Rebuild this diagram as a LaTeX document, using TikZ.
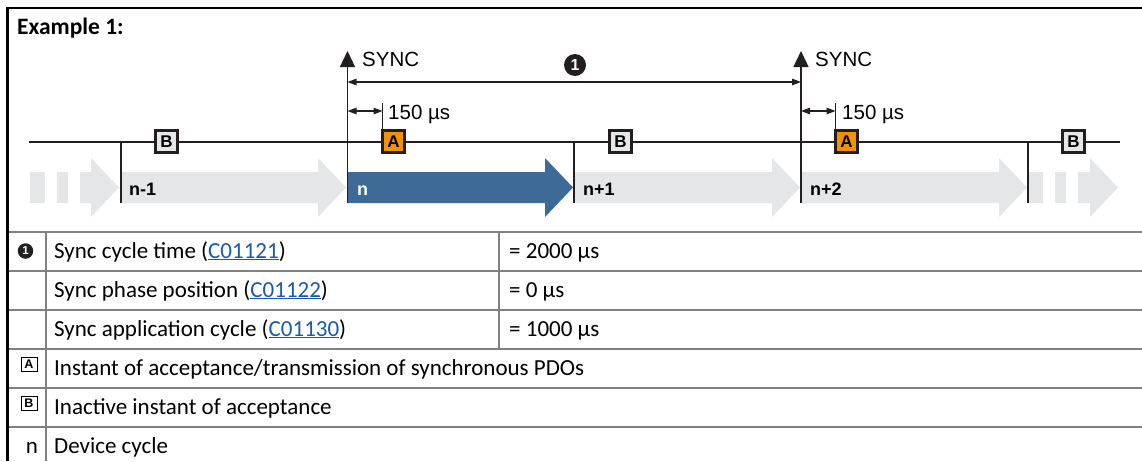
\documentclass[tikz,border=0pt]{standalone}
\usepackage{fontspec}
\setmainfont{Carlito}
\newfontfamily\arial{Liberation Sans}
\usetikzlibrary{arrows.meta}
\definecolor{orangeA}{RGB}{243,146,0}
\definecolor{boxgray}{RGB}{230,231,232}
\definecolor{arrowgray}{RGB}{229,230,231}
\definecolor{cycleblue}{RGB}{61,106,150}
\definecolor{linkblue}{RGB}{25,90,170}
\definecolor{rulegray}{RGB}{128,128,128}
\definecolor{ink}{RGB}{35,31,32}
\newcommand\cycarrow[3]{\fill[#3] (#1,172) -- ({#2-28},172) -- ({#2-28},158) -- (#2,187.5) -- ({#2-28},217) -- ({#2-28},203) -- (#1,203) -- cycle;}
\tikzset{
  timeline/.style={draw=ink, line width=2.6pt},
  tickline/.style={draw=ink, line width=1.3pt},
  boxA/.style={draw=ink, line width=3pt, fill=orangeA, minimum size=22pt, inner sep=0pt, outer sep=0pt, font=\arial\bfseries\fontsize{17}{17}\selectfont},
  boxB/.style={boxA, fill=boxgray},
  cyclabel/.style={anchor=base west, inner sep=0pt, font=\arial\bfseries\fontsize{18}{18}\selectfont},
  arlabel/.style={anchor=base west, inner sep=0pt, font=\arial\fontsize{20.5}{20.5}\selectfont},
  dimline/.style={draw=ink, line width=1.2pt, {Triangle[length=9pt,width=6.5pt]}-{Triangle[length=9pt,width=6.5pt]}},
  syncarrow/.style={draw=ink, line width=1.3pt, -{Triangle[length=16pt,width=15pt]}},
  numcircle/.style={circle, fill=ink, text=white, inner sep=0pt, font=\arial\bfseries},
  rowline/.style={draw=rulegray, line width=2pt},
  frame/.style={draw=black, line width=2.5pt},
  txt/.style={anchor=base west, inner sep=0pt, font=\fontsize{23}{23}\selectfont},
  legbox/.style={draw=black, line width=0.9pt, fill=white, minimum width=16pt, minimum height=14pt, inner sep=0pt, font=\arial\bfseries\fontsize{12.5}{12.5}\selectfont},
}
\begin{document}
\begin{tikzpicture}[x=1pt,y=-1pt]
\useasboundingbox (0,0) rectangle (1142,461);
\fill[white] (0,0) rectangle (1142,461);

% heading
\node[anchor=base west, inner sep=0pt, font=\bfseries\fontsize{23.5}{23.5}\selectfont] (title) at (17,34) {Example 1:};

% cycle arrows
\fill[arrowgray] (30,172) rectangle (45,203);
\fill[arrowgray] (57,172) rectangle (68,203);
\cycarrow{80}{119}{arrowgray}
\cycarrow{121}{346}{arrowgray}
\cycarrow{347.5}{573}{cycleblue}
\cycarrow{574}{800}{arrowgray}
\cycarrow{801}{1027}{arrowgray}
\fill[arrowgray] (1029,172) rectangle (1043,203);
\fill[arrowgray] (1055,172) rectangle (1066,203);
\cycarrow{1078}{1118}{arrowgray}

% cycle labels
\node[cyclabel] (lnm1) at (129,195) {n-1};
\node[cyclabel, text=white] (ln) at (357,195) {n};
\node[cyclabel] (lnp1) at (583,195) {n+1};
\node[cyclabel] (lnp2) at (810,195) {n+2};

% coordinates
\coordinate (tlL) at (29,142);
\coordinate (tlR) at (1120,142);
\coordinate (t0a) at (121,142);   \coordinate (t0b) at (121,203);
\coordinate (t2a) at (574,142);   \coordinate (t2b) at (574,203);
\coordinate (t4a) at (1028,142);  \coordinate (t4b) at (1028,203);
\coordinate (s1b) at (347.5,203); \coordinate (s1t) at (347.5,51);
\coordinate (s2b) at (801,203);   \coordinate (s2t) at (801,51);

% ticks
\draw[tickline] (t0a) -- (t0b);
\draw[tickline] (t2a) -- (t2b);
\draw[tickline] (t4a) -- (t4b);
\draw[syncarrow] (s1b) -- (s1t);
\draw[syncarrow] (s2b) -- (s2t);

% timeline
\draw[timeline] (tlL) -- (tlR);

% boxes
\node[boxB] (B1) at (166.5,141.5) {B};
\node[boxA] (A1) at (393.5,141.5) {A};
\node[boxB] (B2) at (620.5,141.5) {B};
\node[boxA] (A2) at (846.5,141.5) {A};
\node[boxB] (B3) at (1073.5,141.5) {B};

% SYNC labels
\node[arlabel] (sync1) at (362,66) {SYNC};
\node[arlabel] (sync2) at (815,66) {SYNC};

% dimension 1
\coordinate (d1l) at (347.5,82);
\coordinate (d1r) at (801,82);
\draw[dimline] (d1l) -- (d1r);
\node[numcircle, minimum size=22pt, font=\arial\bfseries\fontsize{16}{16}\selectfont] (one) at (575,65) {1};

% 150 us
\coordinate (a1t) at (382.5,103);
\coordinate (a2t) at (835.5,103);
\draw[tickline] (A1.north west) -- (a1t);
\draw[tickline] (A2.north west) -- (a2t);
\coordinate (e1l) at (347.5,111); \coordinate (e1r) at (382.5,111);
\coordinate (e2l) at (801,111);   \coordinate (e2r) at (835.5,111);
\draw[dimline] (e1l) -- (e1r);
\draw[dimline] (e2l) -- (e2r);
\node[arlabel] (us1) at (388,119) {150 µs};
\node[arlabel] (us2) at (842,119) {150 µs};

% table lines
\foreach \yy in {232,271,310,349,388,427} {\draw[rowline] (7,\yy) -- (1142,\yy);}
\draw[rowline] (45.5,232) -- (45.5,461);
\draw[rowline] (499,232) -- (499,349);

% frame
\draw[frame] (7.5,461) -- (7.5,8) -- (1142,8);

% table contents
\node[numcircle, minimum size=15.5pt, font=\arial\bfseries\fontsize{11.5}{11.5}\selectfont] (t1) at (25.5,251) {1};
\node[txt] (r1) at (54,258) {Sync cycle time ({\color{linkblue}\underline{C01121}})};
\node[txt] (v1) at (509,258) {= 2000 µs};
\node[txt] (r2) at (54,297) {Sync phase position ({\color{linkblue}\underline{C01122}})};
\node[txt] (v2) at (509,297) {= 0 µs};
\node[txt] (r3) at (54,336) {Sync application cycle ({\color{linkblue}\underline{C01130}})};
\node[txt] (v3) at (509,336) {= 1000 µs};
\node[legbox] (lA) at (29,364.5) {A};
\node[txt] (r4) at (54,375) {Instant of acceptance/transmission of synchronous PDOs};
\node[legbox] (lB) at (29,403.5) {B};
\node[txt] (r5) at (54,414) {Inactive instant of acceptance};
\node[txt, anchor=base] (ln2) at (32,453) {n};
\node[txt] (r6) at (54,453) {Device cycle};
\end{tikzpicture}
\end{document}
